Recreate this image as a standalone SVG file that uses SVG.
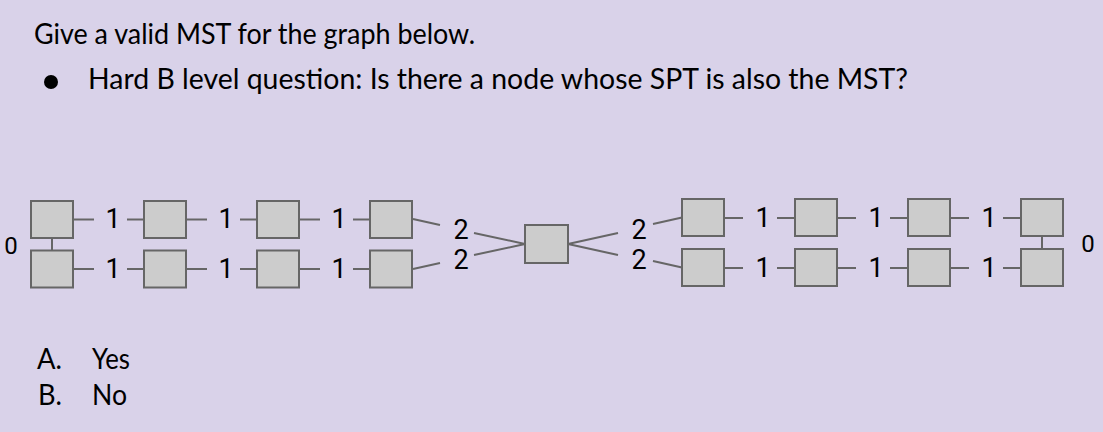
<svg xmlns="http://www.w3.org/2000/svg" width="1103" height="432" viewBox="0 0 1103 432">
<style>
.bg{fill:#d9d2e9}
.t{font-family:Lato,"Open Sans",sans-serif;font-size:28px;fill:#000}
.n rect{fill:#cccccc;stroke:#666666;stroke-width:2}
.e line{stroke:#666666;stroke-width:2}
.l{font-family:Roboto,"Liberation Sans",Arial,sans-serif;font-size:27px;fill:#000;text-anchor:middle}
.z{font-family:Roboto,"Liberation Sans",Arial,sans-serif;font-size:24px;fill:#000;text-anchor:middle}
</style>
<rect class="bg" x="0" y="0" width="1103" height="432"/>
<text class="t" x="34" y="44" textLength="441" lengthAdjust="spacingAndGlyphs">Give a valid MST for the graph below.</text>
<circle cx="51" cy="82" r="7" fill="#000"/>
<text class="t" x="88" y="89" textLength="820" lengthAdjust="spacingAndGlyphs">Hard B level question: Is there a node whose SPT is also the MST?</text>
<text class="t" x="37" y="369" textLength="25" lengthAdjust="spacingAndGlyphs">A.</text>
<text class="t" x="92" y="369" textLength="38" lengthAdjust="spacingAndGlyphs">Yes</text>
<text class="t" x="38" y="405" textLength="24" lengthAdjust="spacingAndGlyphs">B.</text>
<text class="t" x="92" y="405" textLength="35" lengthAdjust="spacingAndGlyphs">No</text>
<g id="connectors" class="e">
<line x1="74" y1="219.5" x2="94" y2="219.5"/><line x1="127" y1="219.5" x2="143" y2="219.5"/>
<line x1="187" y1="219.5" x2="207" y2="219.5"/><line x1="240" y1="219.5" x2="256" y2="219.5"/>
<line x1="300" y1="219.5" x2="320" y2="219.5"/><line x1="353" y1="219.5" x2="369" y2="219.5"/>
<line x1="74" y1="269" x2="94" y2="269"/><line x1="127" y1="269" x2="143" y2="269"/>
<line x1="187" y1="269" x2="207" y2="269"/><line x1="240" y1="269" x2="256" y2="269"/>
<line x1="300" y1="269" x2="320" y2="269"/><line x1="353" y1="269" x2="369" y2="269"/>
<line x1="52" y1="238" x2="52" y2="250"/>
<line x1="413" y1="219" x2="440" y2="225"/><line x1="474" y1="233" x2="525" y2="244"/>
<line x1="413" y1="269" x2="440" y2="263"/><line x1="474" y1="255" x2="525" y2="244"/>
<line x1="568" y1="244" x2="618" y2="233"/><line x1="653" y1="224" x2="682" y2="217.5"/>
<line x1="568" y1="244" x2="618" y2="255"/><line x1="653" y1="261" x2="682" y2="267.5"/>
<line x1="725" y1="218" x2="743" y2="218"/><line x1="777" y1="218" x2="795" y2="218"/>
<line x1="838" y1="218" x2="856" y2="218"/><line x1="890" y1="218" x2="908" y2="218"/>
<line x1="951" y1="218" x2="969" y2="218"/><line x1="1003" y1="218" x2="1021" y2="218"/>
<line x1="725" y1="268" x2="743" y2="268"/><line x1="777" y1="268" x2="795" y2="268"/>
<line x1="838" y1="268" x2="856" y2="268"/><line x1="890" y1="268" x2="908" y2="268"/>
<line x1="951" y1="268" x2="969" y2="268"/><line x1="1003" y1="268" x2="1021" y2="268"/>
<line x1="1042" y1="236" x2="1042" y2="249"/>
</g>
<g id="labels">
<text class="l" x="113" y="228">1</text><text class="l" x="226" y="228">1</text><text class="l" x="339" y="228">1</text>
<text class="l" x="113" y="278">1</text><text class="l" x="226" y="278">1</text><text class="l" x="339" y="278">1</text>
<text class="l" x="461" y="239">2</text><text class="l" x="461" y="269">2</text>
<text class="l" x="639" y="239">2</text><text class="l" x="639" y="269">2</text>
<text class="l" x="763" y="227">1</text><text class="l" x="876" y="227">1</text><text class="l" x="989" y="227">1</text>
<text class="l" x="763" y="277">1</text><text class="l" x="876" y="277">1</text><text class="l" x="989" y="277">1</text>
<text class="z" x="11" y="254">0</text>
<text class="z" x="1088" y="252">0</text>
</g>
<g id="nodes" class="n">
<g id="L1t"><rect x="31" y="201" width="42" height="37"/></g>
<g id="L2t"><rect x="144" y="201" width="42" height="37"/></g>
<g id="L3t"><rect x="257" y="201" width="42" height="37"/></g>
<g id="L4t"><rect x="370" y="201" width="42" height="37"/></g>
<g id="L1b"><rect x="31" y="250.5" width="42" height="37"/></g>
<g id="L2b"><rect x="144" y="250.5" width="42" height="37"/></g>
<g id="L3b"><rect x="257" y="250.5" width="42" height="37"/></g>
<g id="L4b"><rect x="370" y="250.5" width="42" height="37"/></g>
<g id="C"><rect x="525" y="225" width="43" height="38"/></g>
<g id="R1t"><rect x="682" y="199" width="42" height="37"/></g>
<g id="R2t"><rect x="795" y="199" width="42" height="37"/></g>
<g id="R3t"><rect x="908" y="199" width="42" height="37"/></g>
<g id="R4t"><rect x="1021" y="199" width="42" height="37"/></g>
<g id="R1b"><rect x="682" y="249" width="42" height="37"/></g>
<g id="R2b"><rect x="795" y="249" width="42" height="37"/></g>
<g id="R3b"><rect x="908" y="249" width="42" height="37"/></g>
<g id="R4b"><rect x="1021" y="249" width="42" height="37"/></g>
</g>
</svg>
